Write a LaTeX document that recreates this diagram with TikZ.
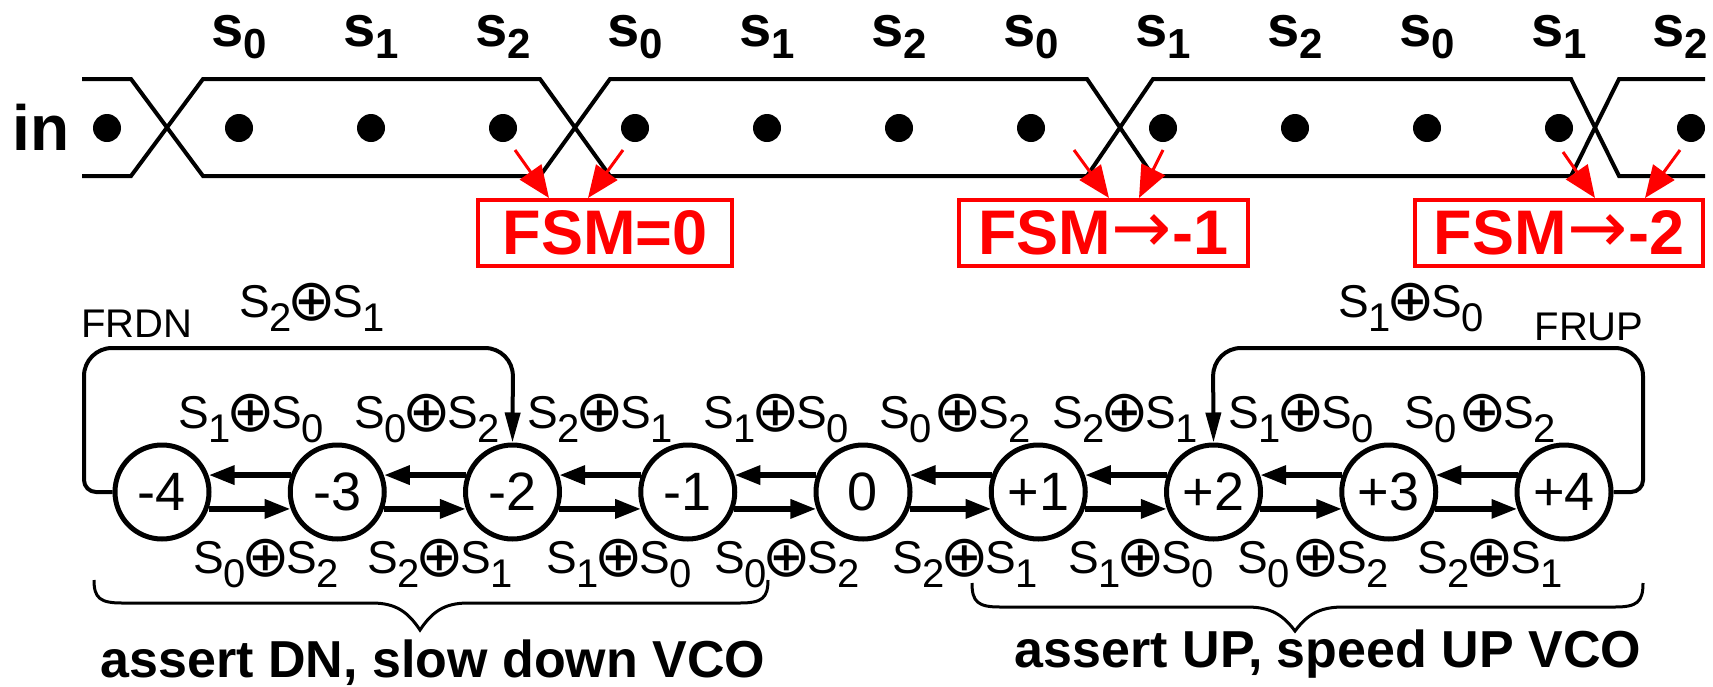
\documentclass[tikz,border=0pt]{standalone}
\usepackage{fontspec}
\setmainfont{Liberation Sans}
\newfontfamily\symfont{DejaVu Sans}
\usetikzlibrary{arrows.meta}

\newcommand\fs[1]{\fontsize{#1}{#1}\selectfont}
% S with a subscript index, and the xor sign
\newcommand\Ssub[1]{S\raisebox{-7pt}{\fs{20pt}#1}}
\newcommand\oplusx{\makebox[20pt]{\raisebox{-1.5pt}{\symfont\fs{29pt}⊕}}}
\newcommand\xr[2]{\Ssub{#1}\oplusx\Ssub{#2}}
\newcommand\xrs[2]{\Ssub{#1}\hspace{3pt}\oplusx\Ssub{#2}}
% bold phase labels of the input stream
\newcommand\ssub[1]{s\raisebox{-6pt}{\fs{21pt}#1}}
% thin arrow inside the FSM boxes
\newcommand\goesto{\makebox[31pt]{\raisebox{1pt}{\symfont\mdseries\fs{36pt}→}}}

\begin{document}
\begin{tikzpicture}[x=0.5pt, y=-0.5pt,
  wave/.style={line width=2pt},
  dotmark/.style={circle, fill=black, inner sep=0pt, minimum size=14pt},
  phase/.style={font=\bfseries\fs{29pt}, inner sep=0pt, anchor=base},
  fsm/.style={draw=red, text=red, line width=1.75pt, font=\bfseries\fs{31.5pt},
              minimum height=33pt, inner sep=0pt},
  redarr/.style={red, line width=1.5pt, -{Triangle[length=16pt,width=13pt]}},
  stnode/.style={circle, draw, line width=2.5pt, minimum size=47pt, inner sep=0pt,
                 font=\fs{27pt}},
  arr/.style={line width=3pt, -{Triangle[length=13pt,width=9pt]}},
  jump/.style={line width=2pt, -{Triangle[length=15pt,width=7.5pt]}},
  lbl/.style={font=\fs{23pt}, inner sep=0pt, anchor=base},
  small/.style={font=\fs{20pt}, inner sep=0pt, anchor=base},
  brace/.style={line width=1.5pt},
  caption/.style={font=\bfseries\fs{26pt}, inner sep=0pt, anchor=base}]

\useasboundingbox (0,0) rectangle (1713,686);

% ---------- input stream ----------
\node[font=\bfseries\fs{32pt}, inner sep=0pt, anchor=base west] (in) at (12,150) {in};

\draw[wave] (82,79) -- (131,79) -- (203,176) -- (540,176) -- (610,79) -- (1087,79)
  -- (1153,176) -- (1571,176) -- (1619,79) -- (1705,79);
\draw[wave] (82,176) -- (131,176) -- (203,79) -- (540,79) -- (610,176) -- (1087,176)
  -- (1153,79) -- (1571,79) -- (1619,176) -- (1705,176);

\foreach \i in {0,...,12}
  \node[dotmark] (d\i) at (107+132*\i,128) {};

\foreach \t/\x [count=\i] in {0/239,1/371,2/503,0/635,1/767,2/899,0/1031,1/1163,2/1295,0/1427,1/1559,2/1680}
  \node[phase] (s\i) at (\x,46) {\ssub{\t}};

% ---------- FSM decisions ----------
\node[fsm, minimum width=127pt] (fa) at (605,233) {FSM=0};
\node[fsm, minimum width=144.5pt] (fb) at (1103.5,233) {FSM\goesto-1};
\node[fsm, minimum width=144pt] (fc) at (1559,233) {FSM\goesto-2};

\coordinate (ta1) at (515,150); \coordinate (ha1) at (549,198);
\coordinate (ta2) at (623,150); \coordinate (ha2) at (588,198);
\coordinate (tb1) at (1074,150); \coordinate (hb1) at (1109,198);
\coordinate (tb2) at (1163,150); \coordinate (hb2) at (1139,198);
\coordinate (tc1) at (1563,152); \coordinate (hc1) at (1595,198);
\coordinate (tc2) at (1680,150); \coordinate (hc2) at (1645,198);
\foreach \p in {a1,a2,b1,b2,c1,c2}
  \draw[redarr] (t\p) -- (h\p);

% ---------- state machine ----------
\foreach \n/\t [count=\i from 0] in {m4/-4,m3/-3,m2/-2,m1/-1,z0/0,p1/+1,p2/+2,p3/+3,p4/+4}
  \node[stnode] (\n) at (162+175.25*\i,492) {\t};

\foreach \a/\b in {m4/m3,m3/m2,m2/m1,m1/z0,z0/p1,p1/p2,p2/p3,p3/p4}{
  \draw[arr] (\b.160) -- (\a.20);
  \draw[arr] (\a.-20) -- (\b.200);
}

% fast-recovery jumps
\draw[jump, rounded corners=6pt] (m4.west) -- (84,492) [rounded corners=14pt] -- (84,348)
  -- (513,348) -- (m2.north);
\draw[jump, rounded corners=6pt] (p4.east) -- (1643,492) [rounded corners=14pt] -- (1643,348)
  -- (1213,348) -- (p2.north);

\node[small] (frdn) at (137,337) {FRDN};
\node[small] (frup) at (1589,340) {FRUP};
\node[lbl] (jl) at (312,317) {\xr21};
\node[lbl] (jr) at (1411,317) {\xr10};

% transition conditions, leftward arrows
\node[lbl] (u1) at (251,428) {\xr10};
\node[lbl] (u2) at (427,428) {\xr02};
\node[lbl] (u3) at (600,428) {\xr21};
\node[lbl] (u4) at (776,428) {\xr10};
\node[lbl] (u5) at (955,428) {\xrs02};
\node[lbl] (u6) at (1125,428) {\xr21};
\node[lbl] (u7) at (1301,428) {\xr10};
\node[lbl] (u8) at (1480,428) {\xrs02};

% transition conditions, rightward arrows
\node[lbl] (l1) at (266,573) {\xr02};
\node[lbl] (l2) at (440,573) {\xr21};
\node[lbl] (l3) at (619,573) {\xr10};
\node[lbl] (l4) at (787,573) {\xr02};
\node[lbl] (l5) at (965,573) {\xr21};
\node[lbl] (l6) at (1141,573) {\xr10};
\node[lbl] (l7) at (1313,573) {\xrs02};
\node[lbl] (l8) at (1490,573) {\xr21};

% ---------- braces and captions ----------
\draw[brace] (94,580) .. controls (94,598) and (100,603) .. (122,603) -- (372,603)
  .. controls (396,603) and (408,612) .. (420,630)
  .. controls (432,612) and (444,603) .. (468,603) -- (740,603)
  .. controls (762,603) and (768,598) .. (768,580);
\draw[brace] (972,583) .. controls (972,602) and (978,607) .. (1000,607) -- (1247,607)
  .. controls (1271,607) and (1283,615) .. (1295,631)
  .. controls (1307,615) and (1319,607) .. (1343,607) -- (1615,607)
  .. controls (1637,607) and (1643,602) .. (1643,583);

\node[caption] (dn) at (433,677) {assert DN, slow down VCO};
\node[caption] (up) at (1328,667) {assert UP, speed UP VCO};
\end{tikzpicture}
\end{document}
